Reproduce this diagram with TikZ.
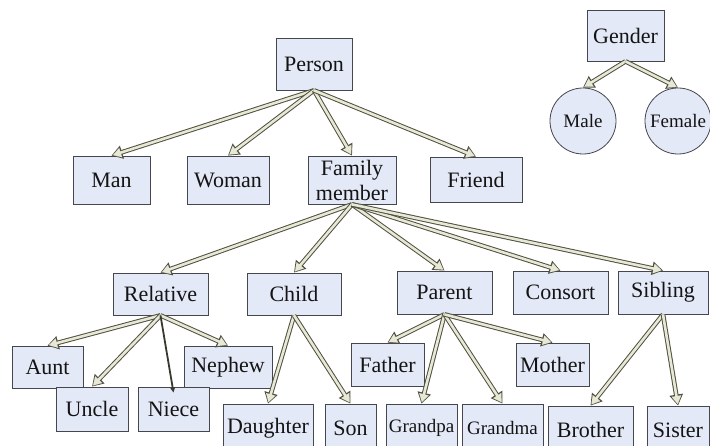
\documentclass[tikz,border=0pt]{standalone}
\usepackage{fontspec}
\setmainfont{Liberation Serif}
\usetikzlibrary{arrows.meta}

\definecolor{boxfill}{RGB}{228,233,247}
\definecolor{boxline}{RGB}{70,70,78}
\definecolor{arrowfill}{RGB}{232,232,214}
\definecolor{arrowline}{RGB}{80,80,64}

\tikzset{
  box/.style={draw=boxline, line width=0.8pt, fill=boxfill, inner sep=0pt,
    text=black!92, align=center, font=\fontsize{22}{25}\selectfont},
  small/.style={font=\fontsize{19}{22}\selectfont},
  ring/.style={box, circle, minimum size=66, font=\fontsize{19}{22}\selectfont},
  hollow/.style={draw=arrowline, line width=4.6pt, -{Triangle[length=11pt,width=13pt]},
    postaction={draw=arrowfill, line width=0.01pt, shorten >=1.6pt,
      -{Triangle[length=8pt,width=9.6pt,fill=arrowfill]}},
    postaction={draw=arrowfill, line width=2.6pt, shorten >=5pt, -}}
}

\begin{document}
\begin{tikzpicture}[x=1pt, y=-1pt]
    \useasboundingbox (0,0) rectangle (710,446);

    % top level
    \node (person) at (314,64) [box, minimum width=76, minimum height=52] {Person};
    \node (man) at (111.5,180) [box, minimum width=77, minimum height=48] {Man};
    \node (woman) at (228,180) [box, minimum width=82, minimum height=48] {Woman};
    \node (family) at (352,180) [box, minimum width=88, minimum height=48] {Family\\member};
    \node (friend) at (476,179.5) [box, minimum width=92, minimum height=45] {Friend};

    % family members
    \node (relative) at (160.5,294) [box, minimum width=95, minimum height=42] {Relative};
    \node (child) at (294,294) [box, minimum width=94, minimum height=42] {Child};
    \node (parent) at (444.5,292.5) [box, minimum width=95, minimum height=43] {Parent};
    \node (consort) at (560.5,292.5) [box, minimum width=95, minimum height=43] {Consort};
    \node (sibling) at (663,292.5) [box, minimum width=90, minimum height=43] {Sibling};

    \node (aunt) at (47.5,367) [box, minimum width=71, minimum height=42] {Aunt};
    \node (nephew) at (228,367) [box, minimum width=88, minimum height=42] {Nephew};
    \node (uncle) at (92,409) [box, minimum width=72, minimum height=44] {Uncle};
    \node (niece) at (173.5,409) [box, minimum width=71, minimum height=44] {Niece};

    \node (daughter) at (268,428) [box, minimum width=90, minimum height=48] {Daughter};
    \node (son) at (350.5,428) [box, minimum width=51, minimum height=48] {Son};

    \node (father) at (387.5,364.5) [box, minimum width=73, minimum height=43] {Father};
    \node (mother) at (552.5,364.5) [box, minimum width=73, minimum height=43] {Mother};
    \node (grandpa) at (421.5,428) [box, small, minimum width=71, minimum height=48] {Grandpa};
    \node (grandma) at (502.5,428) [box, small, minimum width=81, minimum height=48] {Grandma};

    \node (brother) at (590.5,430) [box, minimum width=85, minimum height=48] {Brother};
    \node (sister) at (678,430) [box, minimum width=62, minimum height=48] {Sister};

    % gender
    \node (gender) at (625.5,35.5) [box, minimum width=77, minimum height=51] {Gender};
    \node (male) at (583,121) [ring] {Male};
    \node (female) at (678,121) [ring] {Female};

    % connectors
    \foreach \n in {man, woman, family, friend}
        \draw [hollow] (person.south) -- (\n.north);
    \foreach \n in {relative, child, parent, consort, sibling}
        \draw [hollow] (family.south) -- (\n.north);
    \foreach \n in {aunt, uncle, nephew}
        \draw [hollow] (relative.south) -- (\n.north);
    \draw [line width=1.8pt, draw=arrowline!70!black, -{Triangle[length=5pt,width=4.5pt]}]
        (relative.south) -- ([yshift=-6pt]niece.north);
    \foreach \n in {daughter, son}
        \draw [hollow] (child.south) -- (\n.north);
    \foreach \n in {father, grandpa, grandma, mother}
        \draw [hollow] (parent.south) -- (\n.north);
    \foreach \n in {brother, sister}
        \draw [hollow] (sibling.south) -- (\n.north);
    \foreach \n in {male, female}
        \draw [hollow] (gender.south) -- (\n.north);

\end{tikzpicture}
\end{document}
